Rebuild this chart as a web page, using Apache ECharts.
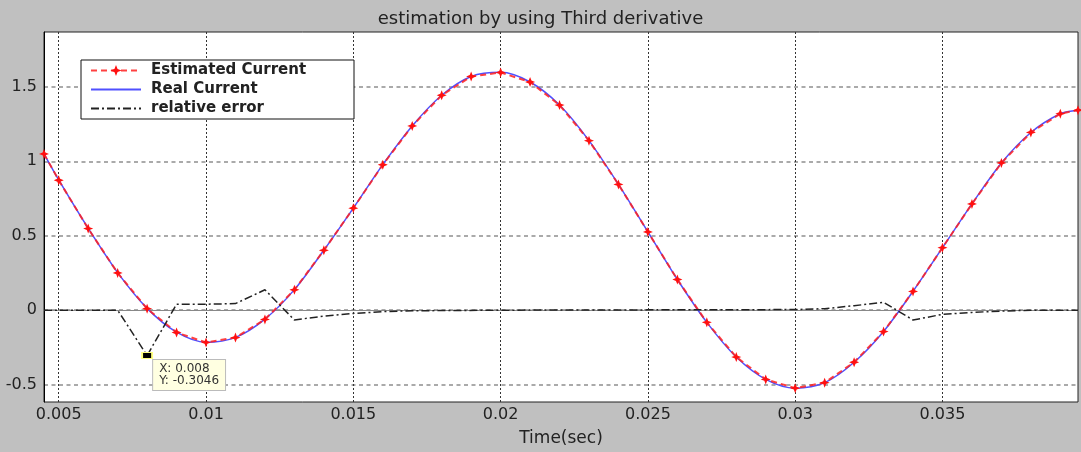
<!doctype html>
<html>
<head>
<meta charset="utf-8">
<title>estimation by using Third derivative</title>
<script src="https://cdn.jsdelivr.net/npm/echarts@6/dist/echarts.min.js"></script>
<style>
  html, body { margin: 0; padding: 0; background: #c0c0c0; }
  #chart { width: 1081px; height: 452px; }
</style>
</head>
<body>
<div id="chart"></div>
<script>
// time (sec) and current values
var tCur = [0.0045, 0.005, 0.006, 0.007, 0.008, 0.009, 0.010, 0.011, 0.012, 0.013, 0.014,
            0.015, 0.016, 0.017, 0.018, 0.019, 0.020, 0.021, 0.022, 0.023, 0.024,
            0.025, 0.026, 0.027, 0.028, 0.029, 0.030, 0.031, 0.032, 0.033, 0.034,
            0.035, 0.036, 0.037, 0.038, 0.039, 0.0396];
var estimated = [1.05, 0.873, 0.548, 0.25, 0.01, -0.15, -0.217, -0.184, -0.062, 0.137, 0.402,
                 0.685, 0.977, 1.238, 1.444, 1.57, 1.597, 1.533, 1.378, 1.139, 0.845,
                 0.526, 0.206, -0.082, -0.315, -0.465, -0.524, -0.487, -0.35, -0.144, 0.126,
                 0.42, 0.714, 0.989, 1.194, 1.32, 1.344];
var real = [1.05, 0.875, 0.55, 0.252, 0.012, -0.148, -0.216, -0.183, -0.06, 0.138, 0.403,
            0.686, 0.978, 1.238, 1.444, 1.57, 1.598, 1.533, 1.378, 1.139, 0.845,
            0.526, 0.206, -0.082, -0.315, -0.465, -0.524, -0.487, -0.35, -0.143, 0.127,
            0.42, 0.714, 0.989, 1.194, 1.32, 1.344];

var tErr = [0.0045, 0.005, 0.006, 0.007, 0.008, 0.009, 0.010, 0.011, 0.012, 0.013, 0.014,
            0.015, 0.016, 0.017, 0.020, 0.025, 0.030, 0.031, 0.032, 0.033, 0.034,
            0.035, 0.036, 0.037, 0.038, 0.0396];
var relErr = [0, 0, 0, 0, -0.3046, 0.04, 0.04, 0.044, 0.137, -0.066, -0.04,
              -0.022, -0.01, -0.004, 0, 0.002, 0.004, 0.01, 0.03, 0.053, -0.066,
              -0.028, -0.015, -0.006, 0, 0];

var xTicks = [0.005, 0.01, 0.015, 0.02, 0.025, 0.03, 0.035];
var yTicks = [-0.5, 0, 0.5, 1, 1.5];
var tip = [0.008, -0.3046];

function pairs(xs, ys) {
  return xs.map(function (x, i) { return [x, ys[i]]; });
}

var star = 'path://M0,-10 L2.8,-2.8 L10,0 L2.8,2.8 L0,10 L-2.8,2.8 L-10,0 L-2.8,-2.8 Z';
var font = 'DejaVu Sans';

var chart = echarts.init(document.getElementById('chart'));
chart.setOption({
  backgroundColor: '#c0c0c0',
  animation: false,
  title: {
    text: 'estimation by using Third derivative',
    left: 'center',
    top: 5,
    textStyle: { fontFamily: font, fontSize: 18, fontWeight: 'normal', color: '#222' }
  },
  legend: {
    orient: 'vertical',
    left: 81,
    top: 60,
    data: [
      { name: 'Estimated Current' },
      { name: 'Real Current', itemStyle: { opacity: 0 } },
      { name: 'relative error', itemStyle: { opacity: 0 } }
    ],
    backgroundColor: '#fff',
    borderColor: '#111',
    borderWidth: 1,
    padding: [3, 8, 3, 9],
    itemGap: 4,
    itemWidth: 50,
    itemHeight: 14,
    textStyle: {
      fontFamily: font, fontSize: 15, fontWeight: 'bold', color: '#222',
      width: 195, lineHeight: 14, padding: [0, 0, 0, 5]
    }
  },
  grid: {
    left: 44, right: 3, top: 32, bottom: 45,
    show: true, backgroundColor: '#fff', borderColor: '#222', borderWidth: 1
  },
  xAxis: {
    type: 'value',
    min: 0.0045,
    max: 0.0396,
    name: 'Time(sec)',
    nameLocation: 'middle',
    nameGap: 28,
    nameTextStyle: { fontFamily: font, fontSize: 17, color: '#222' },
    axisLine: { show: true, lineStyle: { color: '#888' } },
    axisTick: { show: false, customValues: xTicks },
    axisLabel: { customValues: xTicks, fontFamily: font, fontSize: 16, color: '#222', margin: 5 },
    splitLine: { show: true, lineStyle: { color: '#333', type: [2, 2], width: 1 } }
  },
  yAxis: {
    type: 'value',
    min: -0.617,
    max: 1.869,
    axisLine: { show: true, lineStyle: { color: '#000' } },
    axisTick: { show: false, customValues: yTicks },
    axisLabel: { customValues: yTicks, fontFamily: font, fontSize: 16, color: '#222', margin: 7 },
    splitLine: { show: true, lineStyle: { color: '#aaa', type: [4, 3.5], width: 2 } }
  },
  series: [
    {
      name: 'Real Current',
      type: 'line',
      data: pairs(tCur, real),
      smooth: 0.3,
      showSymbol: false,
      symbol: 'none',
      lineStyle: { color: '#5050ff', width: 1.5 },
      itemStyle: { color: '#5050ff' },
      z: 2
    },
    {
      name: 'Estimated Current',
      type: 'line',
      data: pairs(tCur, estimated),
      symbol: star,
      symbolSize: 10,
      lineStyle: { color: '#ff2020', width: 2, type: [6, 4], opacity: 0.85 },
      itemStyle: { color: '#ff1010' },
      z: 3
    },
    {
      name: 'relative error',
      type: 'line',
      data: pairs(tErr, relErr),
      showSymbol: false,
      symbol: 'none',
      lineStyle: { color: '#222', width: 1.5, type: [8, 3, 2, 3] },
      itemStyle: { color: '#222' },
      z: 4,
      markPoint: {
        symbol: 'rect',
        symbolSize: [10, 6],
        itemStyle: { color: '#000', borderColor: '#ffff80', borderWidth: 1.5 },
        label: {
          show: true,
          position: [12, 8],
          formatter: 'X: ' + tip[0] + '\nY: ' + tip[1],
          fontFamily: font,
          fontSize: 12,
          lineHeight: 12,
          color: '#333',
          backgroundColor: '#ffffe1',
          borderColor: '#bbb',
          borderWidth: 1,
          padding: [3, 6, 3, 6],
          align: 'left',
          verticalAlign: 'top'
        },
        data: [{ coord: tip }]
      }
    }
  ]
});
</script>
</body>
</html>
